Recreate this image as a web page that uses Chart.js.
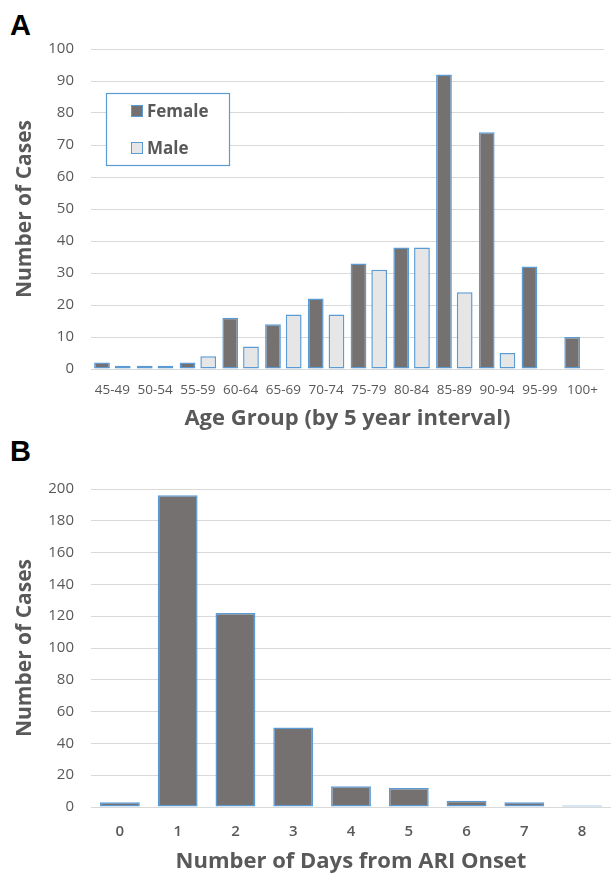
<!DOCTYPE html>
<html>
<head>
<meta charset="utf-8">
<script src="https://cdn.jsdelivr.net/npm/chart.js@4.4.0/dist/chart.umd.min.js"></script>
<style>
  html, body { margin: 0; padding: 0; background: #fff; }
  body { width: 611px; height: 874px; position: relative; overflow: hidden; }
  .panel { position: absolute; left: 0; }
  .tag { position: absolute; left: 10px; font: bold 29px "Liberation Sans", Arial, sans-serif; line-height: 1; color: #000; }
</style>
</head>
<body>
<div class="tag" style="top:11px">A</div>
<div class="tag" style="top:437px">B</div>
<div class="panel" style="top:0"><canvas id="age-chart" width="611" height="440"></canvas></div>
<div class="panel" style="top:440px"><canvas id="days-chart" width="611" height="434"></canvas></div>
<script>
// Panel A - cases by age group
const ageGroups = ['45-49', '50-54', '55-59', '60-64', '65-69', '70-74', '75-79', '80-84', '85-89', '90-94', '95-99', '100+'];
const femaleCases = [2, 1, 2, 16, 14, 22, 33, 38, 92, 74, 32, 10];
const maleCases = [1, 1, 4, 7, 17, 17, 31, 38, 24, 5, null, null];
const ageTicks = [0, 10, 20, 30, 40, 50, 60, 70, 80, 90, 100];

// Panel B - cases by days from ARI onset
const onsetDays = ['0', '1', '2', '3', '4', '5', '6', '7', '8'];
const onsetCases = [3, 196, 122, 50, 13, 12, 4, 3, 1];
const onsetTicks = [0, 20, 40, 60, 80, 100, 120, 140, 160, 180, 200];

const TEXT = '#595959';
const GRID = '#d9d9d9';
const EDGE = '#5b9bd5';
const DARK = '#767171';
const LIGHT = '#e7e6e6';
const FONT = "'Open Sans', 'Noto Sans', sans-serif";

Chart.defaults.font.family = FONT;
Chart.defaults.color = TEXT;

// legend box drawn inside the plot like the Excel original
const boxLegend = {
    id: 'boxLegend',
    afterDraw(chart, args, opts) {
        if (!opts.show) return;
        const ctx = chart.ctx;
        ctx.save();
        ctx.fillStyle = '#fff';
        ctx.fillRect(opts.x, opts.y, opts.w, opts.h);
        ctx.strokeStyle = EDGE;
        ctx.lineWidth = 1.2;
        ctx.strokeRect(opts.x + 0.5, opts.y + 0.5, opts.w, opts.h);
        ctx.font = 'bold 17px ' + FONT;
        ctx.textBaseline = 'middle';
        chart.data.datasets.forEach((ds, i) => {
            const cy = opts.y + opts.first + i * opts.gap;
            ctx.fillStyle = ds.backgroundColor;
            ctx.fillRect(opts.x + 25, cy - 6, 12, 12);
            ctx.strokeStyle = EDGE;
            ctx.lineWidth = 1;
            ctx.strokeRect(opts.x + 25.5, cy - 5.5, 11, 11);
            ctx.fillStyle = TEXT;
            ctx.fillText(ds.label, opts.x + 41, cy + 1);
        });
        ctx.restore();
    }
};

function axes(ticks, xTitle, xHeight, xPad, xFont, titlePad) {
    return {
        x: {
            grid: { display: false, drawTicks: false },
            border: { display: false },
            ticks: { padding: xPad, font: xFont, color: TEXT },
            title: {
                display: true, text: xTitle, color: TEXT,
                font: { size: 22, weight: 'bold', lineHeight: 1 },
                padding: { top: 0, bottom: titlePad }
            },
            afterFit: s => { s.height = xHeight; }
        },
        y: {
            min: ticks[0],
            max: ticks[ticks.length - 1],
            afterBuildTicks: s => { s.ticks = ticks.map(v => ({ value: v })); },
            grid: { color: GRID, lineWidth: 1, drawTicks: false },
            border: { display: false },
            ticks: { padding: 17, font: { size: 15 }, color: TEXT },
            title: {
                display: true, text: 'Number of Cases', color: TEXT,
                font: { size: 21, weight: 'bold', lineHeight: 1 },
                padding: { top: 15, bottom: 0 }
            },
            afterFit: s => { s.width = 91; }
        }
    };
}

document.addEventListener('DOMContentLoaded', () => {
    new Chart(document.getElementById('age-chart'), {
        type: 'bar',
        data: {
            labels: ageGroups,
            datasets: [{
                label: 'Female',
                data: femaleCases,
                backgroundColor: DARK,
                borderColor: EDGE,
                borderWidth: 1.5,
                borderSkipped: false,
                categoryPercentage: 0.97,
                barPercentage: 0.76
            }, {
                label: 'Male',
                data: maleCases,
                backgroundColor: LIGHT,
                borderColor: EDGE,
                borderWidth: 1.5,
                borderSkipped: false,
                categoryPercentage: 0.97,
                barPercentage: 0.76
            }]
        },
        options: {
            responsive: false,
            animation: false,
            layout: { padding: { top: 49, right: 0, bottom: 0, left: 0 } },
            scales: axes(ageTicks, 'Age Group (by 5 year interval)', 71, 13, { size: 13.5 }, 10),
            plugins: {
                legend: { display: false },
                tooltip: { enabled: false },
                boxLegend: { show: true, x: 106, y: 93, w: 123, h: 72, first: 18, gap: 37 }
            }
        },
        plugins: [boxLegend]
    });

    new Chart(document.getElementById('days-chart'), {
        type: 'bar',
        data: {
            labels: onsetDays,
            datasets: [{
                label: 'Cases',
                data: onsetCases,
                backgroundColor: DARK,
                borderColor: EDGE,
                borderWidth: 1.5,
                borderSkipped: false,
                categoryPercentage: 1,
                barPercentage: 0.69
            }]
        },
        options: {
            responsive: false,
            animation: false,
            layout: { padding: { top: 49, right: 0, bottom: 0, left: 0 } },
            scales: axes(onsetTicks, 'Number of Days from ARI Onset', 67, 16, { size: 15, weight: '600' }, 1),
            plugins: {
                legend: { display: false },
                tooltip: { enabled: false }
            }
        }
    });
});
</script>
</body>
</html>
